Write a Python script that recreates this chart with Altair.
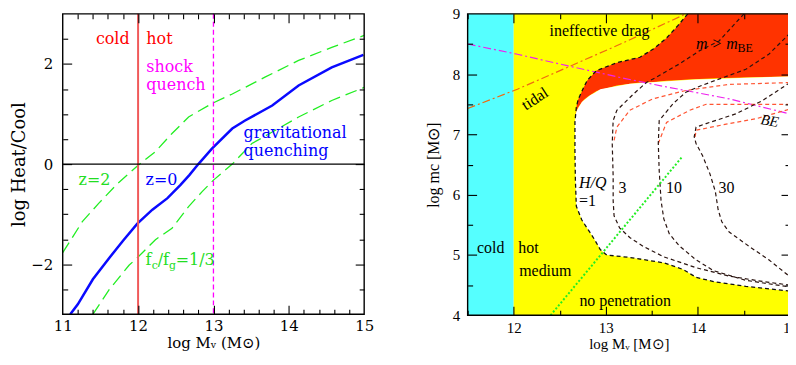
import altair as alt
import pandas as pd

# ================= left panel data =================
L_XDOM = [11, 15]
L_YDOM = [-3, 3]
L_XLAB = [11, 12, 13, 14, 15]
L_XMAJ = [12, 13, 14]
L_XMIN = [11.2, 11.4, 11.6, 11.8, 12.2, 12.4, 12.6, 12.8, 13.2, 13.4, 13.6, 13.8, 14.2, 14.4, 14.6, 14.8]
L_YLAB = [-2, 0, 2]
L_YMAJ = [-2, 0, 2]
L_YMIN = [-2.5, -1.5, -1, -0.5, 0.5, 1, 1.5, 2.5]

# z = 0 (blue, solid)
Z0_X = [11.10, 11.20, 11.40, 11.62, 11.80, 11.99, 12.19, 12.39, 12.56, 12.68, 12.80, 12.98, 13.25, 13.42, 13.78, 14.13, 14.57, 14.99]
Z0_Y = [-3.0, -2.80, -2.30, -1.87, -1.53, -1.19, -0.91, -0.68, -0.42, -0.22, 0.0, 0.31, 0.71, 0.87, 1.17, 1.57, 1.93, 2.18]
# z = 2 (green, dashed)
Z2_X = [11.0, 11.26, 11.48, 11.72, 11.99, 12.23, 12.45, 12.67, 12.98, 13.25, 13.69, 14.13, 14.57, 15.0]
Z2_Y = [-1.77, -1.15, -0.78, -0.40, -0.04, 0.25, 0.61, 0.94, 1.21, 1.40, 1.74, 2.07, 2.33, 2.57]
# fc/fg = 1/3 (green, dashed)
FC_X = [11.40, 11.62, 11.88, 11.99, 12.23, 12.45, 12.67, 12.85, 13.0, 13.25, 13.51, 13.78, 14.13, 14.57, 15.0]
FC_Y = [-3.0, -2.50, -2.02, -1.87, -1.51, -1.28, -0.85, -0.55, -0.32, 0.0, 0.41, 0.64, 0.94, 1.27, 1.53]

L_VSOLID = [12]
L_VDASH = [13]
L_HLINE = [0]

L_TXT = ["cold", "hot", "shock", "quench", "gravitational", "quenching", "z=2", "z=0"]
L_TXT_X = [11.44, 12.11, 12.11, 12.11, 13.40, 13.40, 11.21, 12.10]
L_TXT_Y = [2.49, 2.49, 1.93, 1.58, 0.63, 0.27, -0.32, -0.32]
L_TXT_C = ["red", "red", "magenta", "magenta", "blue", "blue", "green", "blue"]

FRAC_TXT = ["f", "/f", "=1/3"]
FRAC_X = [12.10, 12.26, 12.50]
FRAC_Y = [-1.91, -1.91, -1.91]
FRAC_SUB_TXT = ["c", "g"]
FRAC_SUB_X = [12.18, 12.41]
FRAC_SUB_Y = [-2.03, -2.03]

# ================= right panel data =================
R_XDOM = [11.5, 15]
R_YDOM = [4, 9]
R_XLAB = [12, 13, 14, 15]
R_XMAJ = [12, 13, 14]
R_XMIN = [11.5, 12.5, 13.5, 14.5]
R_YLAB = [4, 5, 6, 7, 8, 9]
R_YMAJ = [5, 6, 7, 8]
R_YMIN = [4.5, 5.5, 6.5, 7.5, 8.5]

BOX_NAME = ["cold", "hot"]
BOX_X0 = [11.5, 12.0]
BOX_X1 = [12.0, 15.0]
BOX_Y0 = [4.0, 4.0]
BOX_Y1 = [9.0, 9.0]

# red region (m > m_BE): between white-region top and the H/Q = 1 curve / top edge
RED_X = [12.665, 12.68, 12.70, 12.76, 12.80, 12.90, 13.12, 13.37, 13.52, 13.66, 13.78, 13.89, 14.2, 14.6, 15.0]
RED_UP = [7.20, 7.45, 7.58, 7.78, 7.90, 8.06, 8.19, 8.28, 8.42, 8.60, 8.80, 9.0, 9.0, 9.0, 9.0]
RED_LO = [7.20, 7.38, 7.45, 7.57, 7.62, 7.72, 7.81, 7.86, 7.87, 7.89, 7.90, 7.91, 7.93, 7.95, 7.96]
N_RED_CURVE = 12  # first points of RED_UP that lie on the H/Q = 1 curve

# white region (hot, H/Q > 1)
WHITE_X = [12.665, 12.67, 12.68, 12.74, 12.83, 12.88, 12.94, 13.01, 13.26, 13.63, 13.84, 13.98, 14.17, 14.52, 15.0]
WHITE_LO = [6.74, 6.24, 5.81, 5.58, 5.37, 5.25, 5.09, 5.00, 4.96, 4.87, 4.76, 4.63, 4.56, 4.48, 4.40]
WHITE_UP = [7.20, 7.30, 7.38, 7.54, 7.65, 7.69, 7.75, 7.77, 7.84, 7.88, 7.90, 7.91, 7.92, 7.94, 7.96]

HQ3_X = [14.50, 14.23, 14.02, 13.80, 13.55, 13.44, 13.30, 13.12, 13.08, 13.07, 13.08, 13.08, 13.09, 13.15, 13.26, 13.41, 13.63, 13.98, 14.34, 14.71, 15.0]
HQ3_Y = [9.0, 8.55, 8.39, 8.17, 7.95, 7.86, 7.67, 7.40, 7.23, 6.85, 6.30, 5.90, 5.65, 5.45, 5.29, 5.14, 4.97, 4.79, 4.65, 4.56, 4.50]
HQ10_X = [15.0, 14.77, 14.52, 14.25, 14.02, 13.87, 13.73, 13.58, 13.57, 13.58, 13.60, 13.63, 13.69, 13.80, 13.98, 14.17, 14.52, 15.0]
HQ10_Y = [8.68, 8.33, 8.08, 7.93, 7.80, 7.70, 7.51, 7.23, 6.85, 6.40, 5.90, 5.60, 5.35, 5.15, 4.92, 4.74, 4.58, 4.47]
HQ30_X = [15.0, 14.95, 14.70, 14.41, 14.09, 13.98, 13.96, 13.98, 14.05, 14.13, 14.19, 14.22, 14.26, 14.34, 14.56, 14.77, 15.0]
HQ30_Y = [7.86, 7.81, 7.56, 7.34, 7.18, 7.12, 6.96, 6.85, 6.65, 6.35, 6.05, 5.75, 5.55, 5.38, 5.14, 4.92, 4.64]

BE3_X = [13.09, 13.12, 13.26, 13.51, 13.87, 14.34, 15.0]
BE3_Y = [6.90, 7.12, 7.40, 7.59, 7.73, 7.83, 7.86]
BE10_X = [13.57, 13.66, 13.91, 14.09, 15.0]
BE10_Y = [6.85, 7.20, 7.40, 7.50, 7.50]
BE30_X = [13.97, 13.98, 14.34, 14.63, 15.0]
BE30_Y = [6.96, 7.07, 7.18, 7.26, 7.42]

MAG_X = [11.5, 12.04, 12.58, 13.2, 13.62, 14.34, 15.0]
MAG_Y = [8.50, 8.33, 8.14, 7.93, 7.80, 7.59, 7.34]
TIDAL_X = [11.5, 12.04, 12.58, 13.19, 13.87]
TIDAL_Y = [7.43, 7.75, 8.11, 8.52, 9.0]
GRN_X = [12.40, 13.83]
GRN_Y = [4.0, 6.63]

R_TXT_L = ["ineffective drag", "hot", "medium", "=1"]
R_TXT_L_X = [12.39, 12.05, 12.06, 12.71]
R_TXT_L_Y = [8.72, 5.12, 4.74, 5.89]
R_TXT_C = ["3", "10", "30", "cold", "no penetration"]
R_TXT_C_X = [13.18, 13.74, 14.31, 11.75, 13.21]
R_TXT_C_Y = [6.11, 6.11, 6.11, 5.12, 4.24]
R_TXT_I = ["m > m", "H/Q"]
R_TXT_I_X = [13.98, 12.71]
R_TXT_I_Y = [8.50, 6.19]
R_TXT_S = ["BE"]
R_TXT_S_X = [14.43]
R_TXT_S_Y = [8.44]
TIDAL_LBL = (["tidal"], [12.23], [7.59])
BE_LBL = (["BE"], [14.78], [7.23])

LFONT = "DejaVu Serif"
RFONT = "Liberation Serif"


# ================= helpers =================
def mkscale(dom):
    return alt.Scale(domain=dom, nice=False, zero=False)


def line_df(curves):
    rows = []
    for name, (xv, yv) in curves.items():
        for i, (a, b) in enumerate(zip(xv, yv)):
            rows.append({"x": a, "y": b, "curve": name, "i": i})
    return pd.DataFrame(rows)


def lines(curves, xs, ys, **mk):
    return alt.Chart(line_df(curves)).mark_line(clip=True, **mk).encode(
        x=alt.X("x:Q", scale=xs, axis=None),
        y=alt.Y("y:Q", scale=ys, axis=None),
        detail="curve:N", order="i:Q")


def band(xv, lo, up, xs, ys, color):
    df = pd.DataFrame({"x": xv, "lo": lo, "up": up})
    return alt.Chart(df).mark_area(color=color, opacity=1).encode(
        x=alt.X("x:Q", scale=xs, axis=None),
        y=alt.Y("lo:Q", scale=ys, axis=None, stack=None), y2="up:Q")


def texts(t, xv, yv, xs, ys, **mk):
    df = pd.DataFrame({"t": t, "x": xv, "y": yv})
    return alt.Chart(df).mark_text(baseline="middle", **mk).encode(
        x=alt.X("x:Q", scale=xs, axis=None),
        y=alt.Y("y:Q", scale=ys, axis=None),
        text="t:N")


def axis_layers(xdom, ydom, W, H, xlab, ylab, xmaj, xmin, ymaj, ymin, font, lsize,
                xtitle, ytitle, xtsize, ytsize, xlp, ylp, xtp, ytp):
    xs, ys = mkscale(xdom), mkscale(ydom)
    corners = pd.DataFrame({"x": xdom, "y": ydom})

    def layer(xa, ya):
        return alt.Chart(corners).mark_point(opacity=0, size=0, strokeWidth=0).encode(
            x=alt.X("x:Q", scale=xs, axis=xa), y=alt.Y("y:Q", scale=ys, axis=ya))

    def lab_axis(orient, vals, title, tsize, lp, tp):
        return alt.Axis(orient=orient, values=vals, ticks=False, tickSize=0, domain=False, grid=False,
                        labelFlush=False, labelOverlap=False,
                        labelFont=font, labelFontSize=lsize, labelColor="black", labelPadding=lp,
                        title=title, titleFont=font, titleFontSize=tsize, titleFontWeight="normal",
                        titleColor="black", titlePadding=tp)

    def tick_axis(orient, vals, size, off):
        return alt.Axis(orient=orient, values=vals, ticks=True, tickSize=size, tickColor="black",
                        tickWidth=1.1, labels=False, title=None, domain=False, grid=False,
                        offset=off, zindex=2)

    out = [layer(lab_axis("bottom", xlab, xtitle, xtsize, xlp, xtp),
                 lab_axis("left", ylab, ytitle, ytsize, ylp, ytp))]
    for vx, vy, size in [(xmaj, ymaj, 9), (xmin, ymin, 5)]:
        out.append(layer(tick_axis("top", vx, size, -H), tick_axis("right", vy, size, -W)))
        out.append(layer(tick_axis("bottom", vx, size, -H), tick_axis("left", vy, size, -W)))
    frame = pd.DataFrame({"x0": [xdom[0]], "x1": [xdom[1]], "y0": [ydom[0]], "y1": [ydom[1]]})
    out.append(alt.Chart(frame).mark_rect(fillOpacity=0, stroke="black", strokeWidth=1.4).encode(
        x=alt.X("x0:Q", scale=xs, axis=None), x2="x1:Q",
        y=alt.Y("y0:Q", scale=ys, axis=None), y2="y1:Q"))
    return out


# ================= left panel =================
LW, LH = 303, 302
lxs, lys = mkscale(L_XDOM), mkscale(L_YDOM)

left_layers = [
    lines({"z2": (Z2_X, Z2_Y), "fc": (FC_X, FC_Y)}, lxs, lys, color="#22ee22", strokeWidth=1.3, strokeDash=[12, 6]),
    lines({"z0": (Z0_X, Z0_Y)}, lxs, lys, color="#0a0aff", strokeWidth=2.5),
    alt.Chart(pd.DataFrame({"x": L_VSOLID})).mark_rule(color="#f05a5a", strokeWidth=2).encode(
        x=alt.X("x:Q", scale=lxs, axis=None)),
    alt.Chart(pd.DataFrame({"x": L_VDASH})).mark_rule(color="#ff00ff", strokeWidth=1.3, strokeDash=[5, 3]).encode(
        x=alt.X("x:Q", scale=lxs, axis=None)),
    alt.Chart(pd.DataFrame({"y": L_HLINE})).mark_rule(color="black", strokeWidth=1.2).encode(
        y=alt.Y("y:Q", scale=lys, axis=None)),
]
colmap = {"red": "#ff0000", "magenta": "#ff00ff", "blue": "#0000ff", "green": "#22dd22"}
for cname, cval in colmap.items():
    idx = [i for i, c in enumerate(L_TXT_C) if c == cname]
    left_layers.append(texts([L_TXT[i] for i in idx], [L_TXT_X[i] for i in idx], [L_TXT_Y[i] for i in idx],
                             lxs, lys, align="left", font=LFONT, fontSize=16, color=cval))
left_layers.append(texts(FRAC_TXT, FRAC_X, FRAC_Y, lxs, lys, align="left", font=LFONT, fontSize=16, color="#22dd22"))
left_layers.append(texts(FRAC_SUB_TXT, FRAC_SUB_X, FRAC_SUB_Y, lxs, lys, align="left", font=LFONT, fontSize=11, color="#22dd22"))
left_layers += axis_layers(L_XDOM, L_YDOM, LW, LH, L_XLAB, L_YLAB, L_XMAJ, L_XMIN, L_YMAJ, L_YMIN,
                           LFONT, 15, "log Mᵥ (M⊙)", "log Heat/Cool", 15, 18, 4, 10, 2, 2)

left = alt.layer(*left_layers).resolve_axis(x="independent", y="independent").properties(width=LW, height=LH)

# ================= right panel =================
RW, RH = 324, 303
rxs, rys = mkscale(R_XDOM), mkscale(R_YDOM)

boxes = pd.DataFrame({"n": BOX_NAME, "x0": BOX_X0, "x1": BOX_X1, "y0": BOX_Y0, "y1": BOX_Y1})

HQ1_X = list(reversed(RED_X[:N_RED_CURVE])) + WHITE_X
HQ1_Y = list(reversed(RED_UP[:N_RED_CURVE])) + WHITE_LO

right_layers = [
    alt.Chart(boxes).mark_rect().encode(
        x=alt.X("x0:Q", scale=rxs, axis=None), x2="x1:Q",
        y=alt.Y("y0:Q", scale=rys, axis=None), y2="y1:Q",
        color=alt.Color("n:N", scale=alt.Scale(domain=BOX_NAME, range=["#55ffff", "#ffff00"]), legend=None)),
    band(RED_X, RED_LO, RED_UP, rxs, rys, "#ff3300"),
    band(WHITE_X, WHITE_LO, WHITE_UP, rxs, rys, "#ffffff"),
    lines({"mag": (MAG_X, MAG_Y)}, rxs, rys, color="#ee22ee", strokeWidth=1.2, strokeDash=[8, 3, 2, 3]),
    lines({"tidal": (TIDAL_X, TIDAL_Y)}, rxs, rys, color="#f06a10", strokeWidth=1.2, strokeDash=[8, 3, 2, 3]),
    lines({"b3": (BE3_X, BE3_Y), "b10": (BE10_X, BE10_Y), "b30": (BE30_X, BE30_Y)}, rxs, rys,
          color="#ff5533", strokeWidth=1.2, strokeDash=[4, 3]),
    lines({"h3": (HQ3_X, HQ3_Y), "h10": (HQ10_X, HQ10_Y), "h30": (HQ30_X, HQ30_Y)}, rxs, rys,
          color="#2a1410", strokeWidth=1.2, strokeDash=[4, 3]),
    lines({"g": (GRN_X, GRN_Y)}, rxs, rys, color="#22ee22", strokeWidth=2, strokeDash=[2, 2]),
    lines({"h1": (HQ1_X, HQ1_Y)}, rxs, rys, color="#111111", strokeWidth=1.3, strokeDash=[4, 3]),
    texts(R_TXT_L, R_TXT_L_X, R_TXT_L_Y, rxs, rys, align="left", font=RFONT, fontSize=16, color="black"),
    texts(R_TXT_C, R_TXT_C_X, R_TXT_C_Y, rxs, rys, align="center", font=RFONT, fontSize=16, color="black"),
    texts(R_TXT_I, R_TXT_I_X, R_TXT_I_Y, rxs, rys, align="left", font=RFONT, fontSize=16, fontStyle="italic", color="black"),
    texts(R_TXT_S, R_TXT_S_X, R_TXT_S_Y, rxs, rys, align="left", font=RFONT, fontSize=12, color="black"),
    texts(*TIDAL_LBL, rxs, rys, align="center", font=RFONT, fontSize=16, angle=327, color="black"),
    texts(*BE_LBL, rxs, rys, align="center", font=RFONT, fontSize=15, angle=10, fontStyle="italic", color="black"),
]
right_layers += axis_layers(R_XDOM, R_YDOM, RW, RH, R_XLAB, R_YLAB, R_XMAJ, R_XMIN, R_YMAJ, R_YMIN,
                            RFONT, 15, "log Mᵥ [M⊙]", "log mc [M⊙]", 15, 16, 5, 8, 1, 11)

right = alt.layer(*right_layers).resolve_axis(x="independent", y="independent").properties(width=RW, height=RH)

chart = alt.hconcat(left, right, spacing=104, bounds="flush").properties(
    padding={"left": 2, "top": -2, "right": -10, "bottom": 0}
).configure_view(strokeWidth=0)

chart.save("out.html", embed_options={"renderer": "svg", "actions": False})
